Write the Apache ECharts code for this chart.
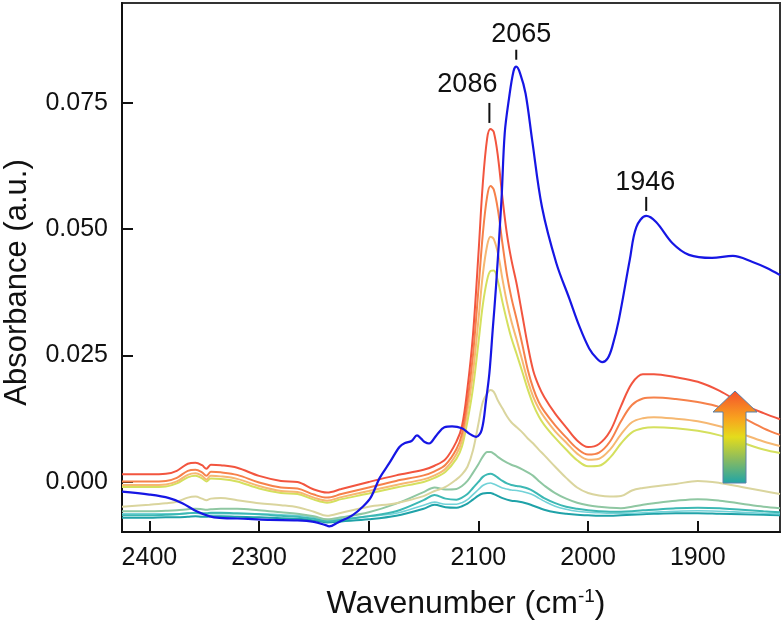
<!DOCTYPE html>
<html>
<head>
<meta charset="utf-8">
<script src="https://cdn.jsdelivr.net/npm/echarts@6/dist/echarts.min.js"></script>
<style>
html,body{margin:0;padding:0;background:#fff;}
#main{width:783px;height:625px;}
</style>
</head>
<body>
<div id="main"></div>
<script>
// ---- data ----
const wnGrid = [2425,2400,2385,2375,2365,2358,2352,2348,2344,2335,2320,2300,2280,2265,2250,2238,2225,2200,2175,2150,2140,2130,2120,2115,2110,2105,2100,2096,2092,2089,2086,2082,2078,2074,2070,2065,2060,2055,2050,2045,2040,2030,2020,2010,2000,1990,1980,1970,1960,1950,1940,1920,1900,1880,1860,1840,1825];

const redVals = [0.0015,0.0015,0.0016,0.0022,0.0036,0.0038,0.0033,0.0026,0.0034,0.0033,0.0028,0.0012,0.0002,0.0000,-0.0015,-0.0021,-0.0014,0.0000,0.0013,0.0024,0.0032,0.0045,0.0080,0.0110,0.0185,0.0290,0.0450,0.0590,0.0680,0.0698,0.0692,0.0640,0.0560,0.0490,0.0440,0.0390,0.0330,0.0270,0.0220,0.0190,0.0168,0.0135,0.0108,0.0082,0.0069,0.0075,0.0100,0.0150,0.0195,0.0213,0.0213,0.0207,0.0198,0.0180,0.0155,0.0136,0.0124];
const orangeVals = [0.0001,0.0001,0.0002,0.0008,0.0022,0.0024,0.0019,0.0012,0.0020,0.0019,0.0014,-0.0001,-0.0011,-0.0013,-0.0025,-0.0031,-0.0024,-0.0011,0.0002,0.0013,0.0021,0.0034,0.0065,0.0095,0.0160,0.0250,0.0380,0.0490,0.0565,0.0585,0.0578,0.0535,0.0470,0.0410,0.0365,0.0320,0.0272,0.0222,0.0185,0.0158,0.0140,0.0112,0.0088,0.0066,0.0054,0.0058,0.0080,0.0120,0.0152,0.0165,0.0167,0.0164,0.0158,0.0148,0.0128,0.0106,0.0093];
const lightOrangeVals = [-0.0006,-0.0006,-0.0005,0.0001,0.0014,0.0017,0.0012,0.0005,0.0012,0.0011,0.0006,-0.0008,-0.0018,-0.0020,-0.0031,-0.0037,-0.0030,-0.0018,-0.0006,0.0005,0.0013,0.0026,0.0055,0.0082,0.0140,0.0215,0.0320,0.0410,0.0468,0.0485,0.0480,0.0450,0.0400,0.0355,0.0318,0.0280,0.0240,0.0200,0.0168,0.0145,0.0128,0.0100,0.0078,0.0056,0.0044,0.0046,0.0064,0.0094,0.0118,0.0126,0.0128,0.0125,0.0120,0.0110,0.0095,0.0080,0.0071];
const yellowVals = [-0.0010,-0.0010,-0.0009,-0.0003,0.0009,0.0012,0.0007,0.0001,0.0007,0.0006,0.0001,-0.0013,-0.0022,-0.0024,-0.0035,-0.0041,-0.0034,-0.0023,-0.0011,0.0000,0.0008,0.0020,0.0046,0.0070,0.0120,0.0185,0.0275,0.0350,0.0400,0.0417,0.0418,0.0395,0.0355,0.0318,0.0285,0.0252,0.0218,0.0183,0.0153,0.0130,0.0113,0.0087,0.0064,0.0043,0.0031,0.0032,0.0048,0.0076,0.0098,0.0106,0.0108,0.0106,0.0101,0.0092,0.0078,0.0064,0.0057];
const khakiVals = [-0.0049,-0.0045,-0.0042,-0.0039,-0.0031,-0.0029,-0.0033,-0.0036,-0.0033,-0.0032,-0.0036,-0.0042,-0.0046,-0.0050,-0.0059,-0.0067,-0.0061,-0.0049,-0.0042,-0.0028,-0.0018,-0.0010,0.0005,0.0015,0.0030,0.0062,0.0115,0.0158,0.0175,0.0182,0.0178,0.0160,0.0145,0.0130,0.0118,0.0108,0.0098,0.0086,0.0076,0.0064,0.0053,0.0030,0.0008,-0.0011,-0.0022,-0.0027,-0.0029,-0.0028,-0.0017,-0.0012,-0.0009,-0.0004,0.0002,-0.0002,-0.0010,-0.0018,-0.0024];
const greenVals = [-0.0058,-0.0058,-0.0057,-0.0056,-0.0054,-0.0053,-0.0054,-0.0055,-0.0054,-0.0053,-0.0053,-0.0056,-0.0060,-0.0063,-0.0068,-0.0074,-0.0070,-0.0060,-0.0043,-0.0020,-0.0011,-0.0015,-0.0014,-0.0008,0.0002,0.0018,0.0035,0.0050,0.0059,0.0059,0.0056,0.0049,0.0043,0.0038,0.0034,0.0030,0.0025,0.0019,0.0012,0.0002,-0.0007,-0.0022,-0.0033,-0.0041,-0.0046,-0.0049,-0.0051,-0.0052,-0.0049,-0.0045,-0.0042,-0.0037,-0.0034,-0.0037,-0.0043,-0.0049,-0.0052];
const tealVals = [-0.0066,-0.0066,-0.0065,-0.0064,-0.0062,-0.0061,-0.0062,-0.0062,-0.0061,-0.0061,-0.0062,-0.0064,-0.0067,-0.0069,-0.0073,-0.0078,-0.0075,-0.0068,-0.0058,-0.0036,-0.0026,-0.0033,-0.0035,-0.0031,-0.0024,-0.0012,0.0000,0.0010,0.0015,0.0016,0.0014,0.0008,0.0002,-0.0003,-0.0006,-0.0008,-0.0010,-0.0013,-0.0018,-0.0025,-0.0032,-0.0042,-0.0049,-0.0053,-0.0056,-0.0058,-0.0059,-0.0059,-0.0058,-0.0056,-0.0055,-0.0052,-0.0051,-0.0052,-0.0055,-0.0058,-0.0060];
const cyanVals = [-0.0063,-0.0063,-0.0063,-0.0063,-0.0062,-0.0062,-0.0063,-0.0063,-0.0063,-0.0063,-0.0063,-0.0063,-0.0065,-0.0066,-0.0070,-0.0076,-0.0073,-0.0068,-0.0062,-0.0046,-0.0040,-0.0044,-0.0044,-0.0041,-0.0035,-0.0025,-0.0015,-0.0007,-0.0003,-0.0002,-0.0004,-0.0008,-0.0012,-0.0014,-0.0016,-0.0017,-0.0019,-0.0022,-0.0026,-0.0032,-0.0038,-0.0048,-0.0054,-0.0058,-0.0060,-0.0061,-0.0062,-0.0062,-0.0062,-0.0061,-0.0060,-0.0058,-0.0057,-0.0058,-0.0060,-0.0062,-0.0063];
const darkTealVals = [-0.0071,-0.0071,-0.0070,-0.0070,-0.0069,-0.0068,-0.0069,-0.0069,-0.0068,-0.0068,-0.0069,-0.0070,-0.0072,-0.0073,-0.0076,-0.0080,-0.0078,-0.0074,-0.0067,-0.0053,-0.0045,-0.0050,-0.0051,-0.0048,-0.0043,-0.0035,-0.0027,-0.0023,-0.0022,-0.0022,-0.0024,-0.0028,-0.0032,-0.0035,-0.0037,-0.0038,-0.0040,-0.0043,-0.0047,-0.0051,-0.0055,-0.0060,-0.0063,-0.0065,-0.0066,-0.0067,-0.0067,-0.0066,-0.0065,-0.0064,-0.0063,-0.0062,-0.0062,-0.0063,-0.0064,-0.0065,-0.0066];

const blueWn = [2425,2400,2382,2370,2357,2345,2336,2310,2290,2265,2250,2240,2236,2228,2215,2205,2198,2190,2181,2172,2167,2161,2156,2152,2149,2145,2138,2131,2124,2115,2108,2102,2097,2093,2090,2087,2084,2079,2076,2072,2068,2065.5,2062,2057,2051,2042,2029,2017,2008,1999,1992,1987,1982,1978,1972,1962,1956,1947,1938,1923,1908,1887,1868,1850,1837,1825];
const blueVals = [-0.0019,-0.0025,-0.0032,-0.0042,-0.0058,-0.0068,-0.0071,-0.0073,-0.0075,-0.0076,-0.0079,-0.0085,-0.0088,-0.0080,-0.0066,-0.0048,-0.0030,0.0008,0.0038,0.0069,0.0077,0.0081,0.0092,0.0085,0.0079,0.0076,0.0093,0.0108,0.0110,0.0106,0.0095,0.0089,0.0103,0.0162,0.0215,0.0300,0.0385,0.0557,0.0690,0.0760,0.0812,0.0821,0.0808,0.0768,0.0676,0.0543,0.0433,0.0362,0.0308,0.0264,0.0244,0.0237,0.0245,0.0267,0.0320,0.0439,0.0504,0.0526,0.0514,0.0472,0.0449,0.0443,0.0447,0.0435,0.0423,0.0409];

const xTicks = [2400,2300,2200,2100,2000,1900];
const yTicks = [0.000,0.025,0.050,0.075];

const annotations = [
  {text:'2086', wn:2090, val:0.0698, dx:-22, tick:[6,26], textGap:31},
  {text:'2065', wn:2065.5, val:0.0821, dx:5, tick:[7,17], textGap:19},
  {text:'1946', wn:1947, val:0.0526, dx:-1, tick:[5,19], textGap:20}
];

// ---- chart ----
const FONT = '"Liberation Sans", Arial, sans-serif';
function zip(xs, ys){ return xs.map((x,i)=>[x, ys[i]]); }

const seriesDefs = [
  {name:'dark teal', vals:darkTealVals, color:'#1fa2a8', w:2},
  {name:'cyan', vals:cyanVals, color:'#72d2d8', w:1.6},
  {name:'teal', vals:tealVals, color:'#3cb8b4', w:2},
  {name:'green', vals:greenVals, color:'#8fc7a2', w:2},
  {name:'khaki', vals:khakiVals, color:'#dad59e', w:2},
  {name:'yellow', vals:yellowVals, color:'#d5e05e', w:2},
  {name:'light orange', vals:lightOrangeVals, color:'#f6b872', w:2},
  {name:'orange', vals:orangeVals, color:'#f6814a', w:2},
  {name:'red', vals:redVals, color:'#f2553f', w:2}
];

const series = seriesDefs.map(d => ({
  name:d.name, type:'line', data:zip(wnGrid, d.vals), showSymbol:false,
  smooth:0.35,
  lineStyle:{color:d.color, width:d.w}, itemStyle:{color:d.color},
  silent:true, animation:false, z:2
}));
series.push({
  name:'blue', type:'line', data:zip(blueWn, blueVals), showSymbol:false,
  smooth:0.35,
  lineStyle:{color:'#1616e4', width:2.2}, itemStyle:{color:'#1616e4'},
  silent:true, animation:false, z:3
});

const option = {
  animation:false,
  backgroundColor:'#fff',
  grid:{left:122, right:3, top:3, bottom:93, show:true, borderColor:'#333', borderWidth:2,
    backgroundColor:'transparent', containLabel:false, outerBoundsMode:'none'},
  xAxis:{
    type:'value', inverse:true, min:1825, max:2425,
    axisLine:{show:true, onZero:false, lineStyle:{color:'#111', width:2}},
    axisTick:{show:true, inside:true, length:11, lineStyle:{color:'#111', width:2}, customValues:xTicks},
    axisLabel:{customValues:xTicks, color:'#111', fontSize:25, fontFamily:FONT, margin:14,
      formatter:v=>String(Math.round(v))},
    splitLine:{show:false},
    name:'{a|Wavenumber (cm}{s|-1}{a|)}',
    nameLocation:'middle', nameGap:55,
    nameTextStyle:{
      padding:[0,0,0,30],
      rich:{
        a:{fontSize:32, fontFamily:FONT, color:'#111'},
        s:{fontSize:19, fontFamily:FONT, color:'#111', padding:[0,0,15,0]}
      }
    }
  },
  yAxis:{
    type:'value', min:-0.0099, max:0.0947,
    axisLine:{show:true, onZero:false, lineStyle:{color:'#111', width:2}},
    axisTick:{show:true, inside:true, length:11, lineStyle:{color:'#111', width:2}, customValues:yTicks},
    axisLabel:{customValues:yTicks, color:'#111', fontSize:25, fontFamily:FONT, margin:14,
      formatter:v=>Math.abs(v)<1e-9 ? '0.000' : v.toFixed(3)},
    splitLine:{show:false},
    name:'Absorbance (a.u.)', nameLocation:'middle', nameGap:89,
    nameTextStyle:{fontSize:31, fontFamily:FONT, color:'#111', padding:[0,30,0,0]}
  },
  series:series
};

const chart = echarts.init(document.getElementById('main'));
chart.setOption(option);

// annotations anchored to data peaks
const graphics = [];
annotations.forEach(a => {
  const p = chart.convertToPixel({gridIndex:0}, [a.wn, a.val]);
  graphics.push({type:'line', silent:true, z:10,
    shape:{x1:p[0], y1:p[1]-a.tick[0], x2:p[0], y2:p[1]-a.tick[1]},
    style:{stroke:'#111', lineWidth:2}});
  graphics.push({type:'text', silent:true, z:10,
    x:p[0]+a.dx, y:p[1]-a.textGap,
    style:{text:a.text, font:'27px ' + FONT, fill:'#111', align:'center', verticalAlign:'bottom'}});
});
// gradient arrow (decoration)
graphics.push({
  type:'polygon', silent:true, z:10,
  shape:{points:[[735,391],[757,412],[746,412],[746,483],[723,483],[723,412],[713,412]]},
  style:{
    fill:new echarts.graphic.LinearGradient(0,0,0,1,[
      {offset:0, color:'#f4502c'},
      {offset:0.3, color:'#f8a31e'},
      {offset:0.5, color:'#e4dc1c'},
      {offset:0.75, color:'#86ba62'},
      {offset:1, color:'#1ea4a8'}
    ]),
    stroke:'#5a80a8', lineWidth:1
  }
});
chart.setOption({graphic:graphics});
</script>
</body>
</html>
